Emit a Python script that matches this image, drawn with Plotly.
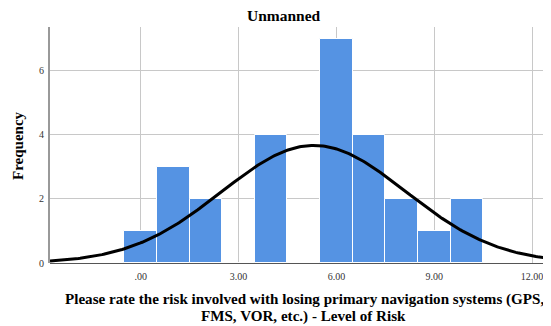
import numpy as np
import plotly.graph_objects as go

# Data
bin_centers = [0, 1, 2, 3, 4, 5, 6, 7, 8, 9, 10]
frequencies = [1, 3, 2, 0, 4, 0, 7, 4, 2, 1, 2]
tick_values = [0, 3, 6, 9, 12]
tick_labels = [".00", "3.00", "6.00", "9.00", "12.00"]
y_ticks = [0, 2, 4, 6]

# Normal curve fitted to the histogram counts
x_arr = np.array(bin_centers, dtype=float)
f_arr = np.array(frequencies, dtype=float)
n = f_arr.sum()
mean = (x_arr * f_arr).sum() / n
sd = np.sqrt(((x_arr - mean) ** 2 * f_arr).sum() / (n - 1))
x_min, x_max = -2.78, 12.58
xc = np.linspace(x_min, x_max, 300)
yc = n * 1.0 / (sd * np.sqrt(2 * np.pi)) * np.exp(-0.5 * ((xc - mean) / sd) ** 2)

serif = "Liberation Serif, Times New Roman, serif"
OFF = 8  # default page body margin
W, H = 551 - OFF, 326 - OFF
L, R, T = 50 - OFF, 0, 27 - OFF
B = H - (263 - OFF)
pw, ph = W - L - R, H - T - B


def px(x):
    return (x - OFF - L) / pw


def py(y):
    return (H - B - (y - OFF)) / ph


fig = go.Figure()
fig.add_trace(go.Bar(
    x=bin_centers, y=frequencies, width=1,
    marker=dict(color="#5593e3", line=dict(color="white", width=1)),
    hoverinfo="skip",
))
fig.add_trace(go.Scatter(
    x=xc, y=yc, mode="lines",
    line=dict(color="black", width=3),
    hoverinfo="skip", cliponaxis=True,
))

annotations = [
    dict(text="<b>Unmanned</b>", x=px(284), y=py(16), xref="paper", yref="paper",
         xanchor="center", yanchor="middle", showarrow=False,
         font=dict(family=serif, size=15.5, color="black")),
    dict(text="<b>Please rate the risk involved with losing primary navigation systems (GPS,</b>",
         x=px(304), y=py(299), xref="paper", yref="paper",
         xanchor="center", yanchor="middle", showarrow=False,
         font=dict(family=serif, size=15.1, color="black")),
    dict(text="<b>FMS, VOR, etc.) - Level of Risk</b>",
         x=px(303), y=py(316), xref="paper", yref="paper",
         xanchor="center", yanchor="middle", showarrow=False,
         font=dict(family=serif, size=15.1, color="black")),
    dict(text="<b>Frequency</b>", x=px(18), y=py(146), xref="paper", yref="paper",
         xanchor="center", yanchor="middle", showarrow=False, textangle=-90,
         font=dict(family=serif, size=15, color="black")),
]

fig.update_layout(
    width=W, height=H,
    margin=dict(l=L, r=R, t=T, b=B, autoexpand=False),
    paper_bgcolor="white", plot_bgcolor="white",
    showlegend=False,
    bargap=0,
    font=dict(family=serif, color="#222"),
    annotations=annotations,
)
fig.update_xaxes(
    range=[x_min, x_max], automargin=False,
    tickvals=tick_values, ticktext=tick_labels,
    tickfont=dict(family=serif, size=10, color="#333"),
    showgrid=True, gridcolor="#c8c8c8", gridwidth=1,
    showline=False, zeroline=False, ticks="outside", ticklen=4, tickcolor="rgba(0,0,0,0)",
)
fig.update_yaxes(
    range=[0, 7.37], automargin=False,
    tickvals=y_ticks,
    tickfont=dict(family=serif, size=10, color="#333"),
    showgrid=True, gridcolor="#c8c8c8", gridwidth=1,
    showline=True, linecolor="#999", linewidth=2,
    zeroline=True, zerolinecolor="#555", zerolinewidth=1,
    ticks="outside", ticklen=2, tickcolor="rgba(0,0,0,0)",
)

fig.write_html("out.html")
